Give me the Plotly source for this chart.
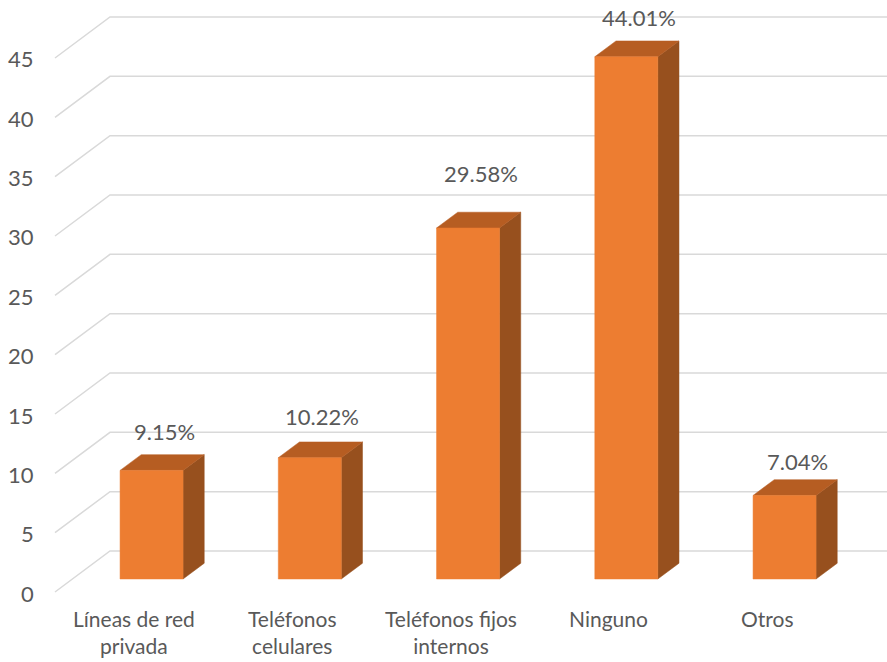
import plotly.graph_objects as go

# ---- data ----
categories = ["Líneas de red<br>privada", "Teléfonos<br>celulares",
              "Teléfonos fijos<br>internos", "Ninguno", "Otros"]
values = [9.15, 10.22, 29.58, 44.01, 7.04]
value_labels = ["9.15%", "10.22%", "29.58%", "44.01%", "7.04%"]
tick_values = [0, 5, 10, 15, 20, 25, 30, 35, 40, 45]

# ---- oblique 3D projection settings ----
W, H = 887, 662
PX_CAT = 158.25          # pixels per category slot
PX_UNIT = 11.867         # pixels per value unit
WALL_X = 110             # left edge of back wall (px)
FLOOR_Y = 551            # back-wall baseline (px)
DEPTH_DX, DEPTH_DY = 55, 41   # screen offset from back (t=0) to front (t=1)
T_FRONT, T_BACK = 0.683, 0.298
HALF_W = 31.5 / PX_CAT

FRONT = "#ED7D31"
TOP = "#B65D22"
SIDE = "#97501E"
GRID = "#D9D9D9"
TEXT = "#595959"
FONT = "Lato"
FSIZE = 22
CAT_FSIZE = 21

x_lo = (0 - WALL_X) / PX_CAT - 0.5
x_hi = (W - WALL_X) / PX_CAT - 0.5
y_hi = FLOOR_Y / PX_UNIT
y_lo = (FLOOR_Y - H) / PX_UNIT


def proj(x, v, t):
    """Map (category x, value v, depth t) to 2D axis coordinates."""
    return x - DEPTH_DX * t / PX_CAT, v - DEPTH_DY * t / PX_UNIT


fig = go.Figure()

# gridlines: slanted side wall segment + back wall line
for tv in tick_values:
    pts = [proj(-0.5, tv, 1), proj(-0.5, tv, 0), proj(x_hi + 0.2, tv, 0)]
    fig.add_trace(go.Scatter(
        x=[p[0] for p in pts], y=[p[1] for p in pts], mode="lines",
        line=dict(color=GRID, width=1.5), hoverinfo="skip", showlegend=False))


def face(points, color):
    xs = [p[0] for p in points] + [points[0][0]]
    ys = [p[1] for p in points] + [points[0][1]]
    fig.add_trace(go.Scatter(
        x=xs, y=ys, mode="lines", fill="toself", fillcolor=color,
        line=dict(color=color, width=0.5), hoverinfo="skip", showlegend=False))


for i, v in enumerate(values):
    xl, xr = i - HALF_W, i + HALF_W
    front = [proj(xl, 0, T_FRONT), proj(xr, 0, T_FRONT),
             proj(xr, v, T_FRONT), proj(xl, v, T_FRONT)]
    top = [proj(xl, v, T_FRONT), proj(xr, v, T_FRONT),
           proj(xr, v, T_BACK), proj(xl, v, T_BACK)]
    side = [proj(xr, 0, T_FRONT), proj(xr, 0, T_BACK),
            proj(xr, v, T_BACK), proj(xr, v, T_FRONT)]
    face(side, SIDE)
    face(top, TOP)
    face(front, FRONT)

annotations = []

# value axis labels at the front end of each gridline
for tv in tick_values:
    x, y = proj(-0.5, tv, 1)
    annotations.append(dict(
        x=x, y=y, xref="x", yref="y", text=str(tv), showarrow=False,
        xanchor="right", yanchor="middle", xshift=-19, yshift=-1,
        font=dict(family=FONT, size=FSIZE, color=TEXT)))

# category labels along the front edge of the floor
for i, c in enumerate(categories):
    x, y = proj(i, 0, 1)
    annotations.append(dict(
        x=x, y=y, xref="x", yref="y", text=c, showarrow=False,
        xanchor="center", yanchor="top", yshift=-13, borderpad=0,
        font=dict(family=FONT, size=CAT_FSIZE, color=TEXT)))

# data labels above each bar
label_lift = [23, 25, 39, 23, 18]
for i, (v, lab) in enumerate(zip(values, value_labels)):
    x, y = proj(i, v, (T_FRONT + T_BACK) / 2)
    _, yb = proj(i, v, T_BACK)
    annotations.append(dict(
        x=x, y=yb, xref="x", yref="y", text=lab, showarrow=False,
        xanchor="center", yanchor="middle", xshift=2, yshift=label_lift[i],
        font=dict(family=FONT, size=FSIZE, color=TEXT)))

fig.update_layout(
    width=W, height=H, autosize=False,
    margin=dict(l=0, r=0, t=0, b=0),
    paper_bgcolor="white", plot_bgcolor="white",
    xaxis=dict(range=[x_lo, x_hi], visible=False, fixedrange=True),
    yaxis=dict(range=[y_lo, y_hi], visible=False, fixedrange=True),
    annotations=annotations,
    showlegend=False,
)

fig.write_html("out.html")
